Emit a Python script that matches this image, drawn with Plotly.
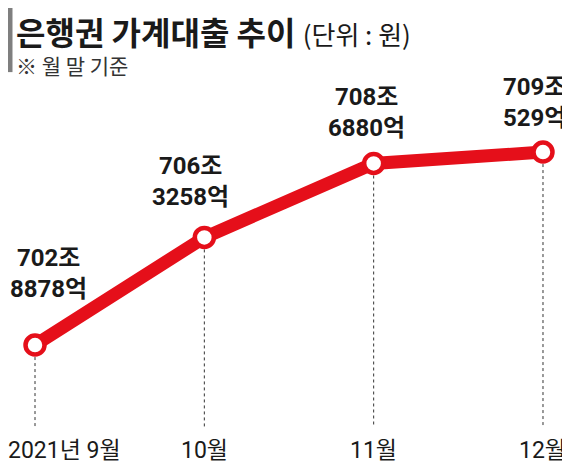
import plotly.graph_objects as go

# 은행권 가계대출 (월말 잔액, 단위: 조원)
months = ["2021년 9월", "10월", "11월", "12월"]
balance = [702.8878, 706.3258, 708.6880, 709.0529]
value_labels = ["702조<br>8878억", "706조<br>3258억", "708조<br>6880억", "709조<br>529억"]

RED = "#e50f1a"
NUM_FONT = "Roboto, Noto Sans CJK KR, sans-serif"
KR_FONT = "Noto Sans CJK KR, sans-serif"

y_min, y_max = 700.27, 713.655
x_idx = list(range(len(months)))

fig = go.Figure()

fig.add_trace(go.Scatter(
    x=x_idx, y=balance, mode="lines+markers",
    line=dict(color=RED, width=13),
    marker=dict(size=19, color="white", line=dict(color=RED, width=4.5)),
    hoverinfo="skip"))

# 점선 보조선 (점에서 축 바닥까지)
for i, v in zip(x_idx, balance):
    fig.add_shape(type="line", x0=i, x1=i, y0=v, y1=y_min, xref="x", yref="y",
                  line=dict(color="#333333", width=1, dash="3px,3px"), layer="below")

# 값 라벨
label_xshift = [13, -14, -7, -8]
label_yshift = [40, 24, 19, 18]
for i, v, t, sx, sy in zip(x_idx, balance, value_labels, label_xshift, label_yshift):
    fig.add_annotation(x=i, y=v, text=t, showarrow=False, yanchor="bottom",
                       yshift=sy, xshift=sx, align="center",
                       font=dict(family=NUM_FONT, size=24, color="#1a1a1a", weight="bold"))

# x축 라벨
for i, m in zip(x_idx, months):
    if i == 0:
        fig.add_annotation(x=0, xref="paper", xanchor="left", y=0, yref="paper",
                           yanchor="top", yshift=-8, xshift=-2, text=m, showarrow=False,
                           font=dict(family=NUM_FONT, size=23, color="#1a1a1a"))
    else:
        fig.add_annotation(x=i, y=0, yref="paper", yanchor="top", yshift=-8,
                           text=m, showarrow=False,
                           font=dict(family=NUM_FONT, size=23, color="#1a1a1a"))

# 제목
fig.add_shape(type="rect", xref="paper", yref="paper", x0=0, x1=0.008,
              y0=0.847, y1=1.0, fillcolor="#7f7f7f", line=dict(width=0))
fig.add_annotation(xref="paper", yref="paper", x=0.012, y=1.0, xanchor="left",
                   yanchor="top", yshift=1, showarrow=False, borderpad=0,
                   text="<b>은행권 가계대출 추이</b> <span style='font-size:26px'>(단위 : 원)</span>",
                   font=dict(family=KR_FONT, size=32, color="#1a1a1a"))
fig.add_annotation(xref="paper", yref="paper", x=0.012, y=0.902, xanchor="left",
                   yanchor="top", showarrow=False, borderpad=0, text="※ 월 말 기준",
                   font=dict(family=KR_FONT, size=21, color="#333333"))

fig.update_layout(
    width=562, height=457,
    margin=dict(l=0, r=0, t=0, b=38),
    paper_bgcolor="white", plot_bgcolor="white",
    showlegend=False,
    xaxis=dict(range=[-0.1595, 3.1595], visible=False),
    yaxis=dict(range=[y_min, y_max], visible=False),
)

fig.write_html("out.html")
